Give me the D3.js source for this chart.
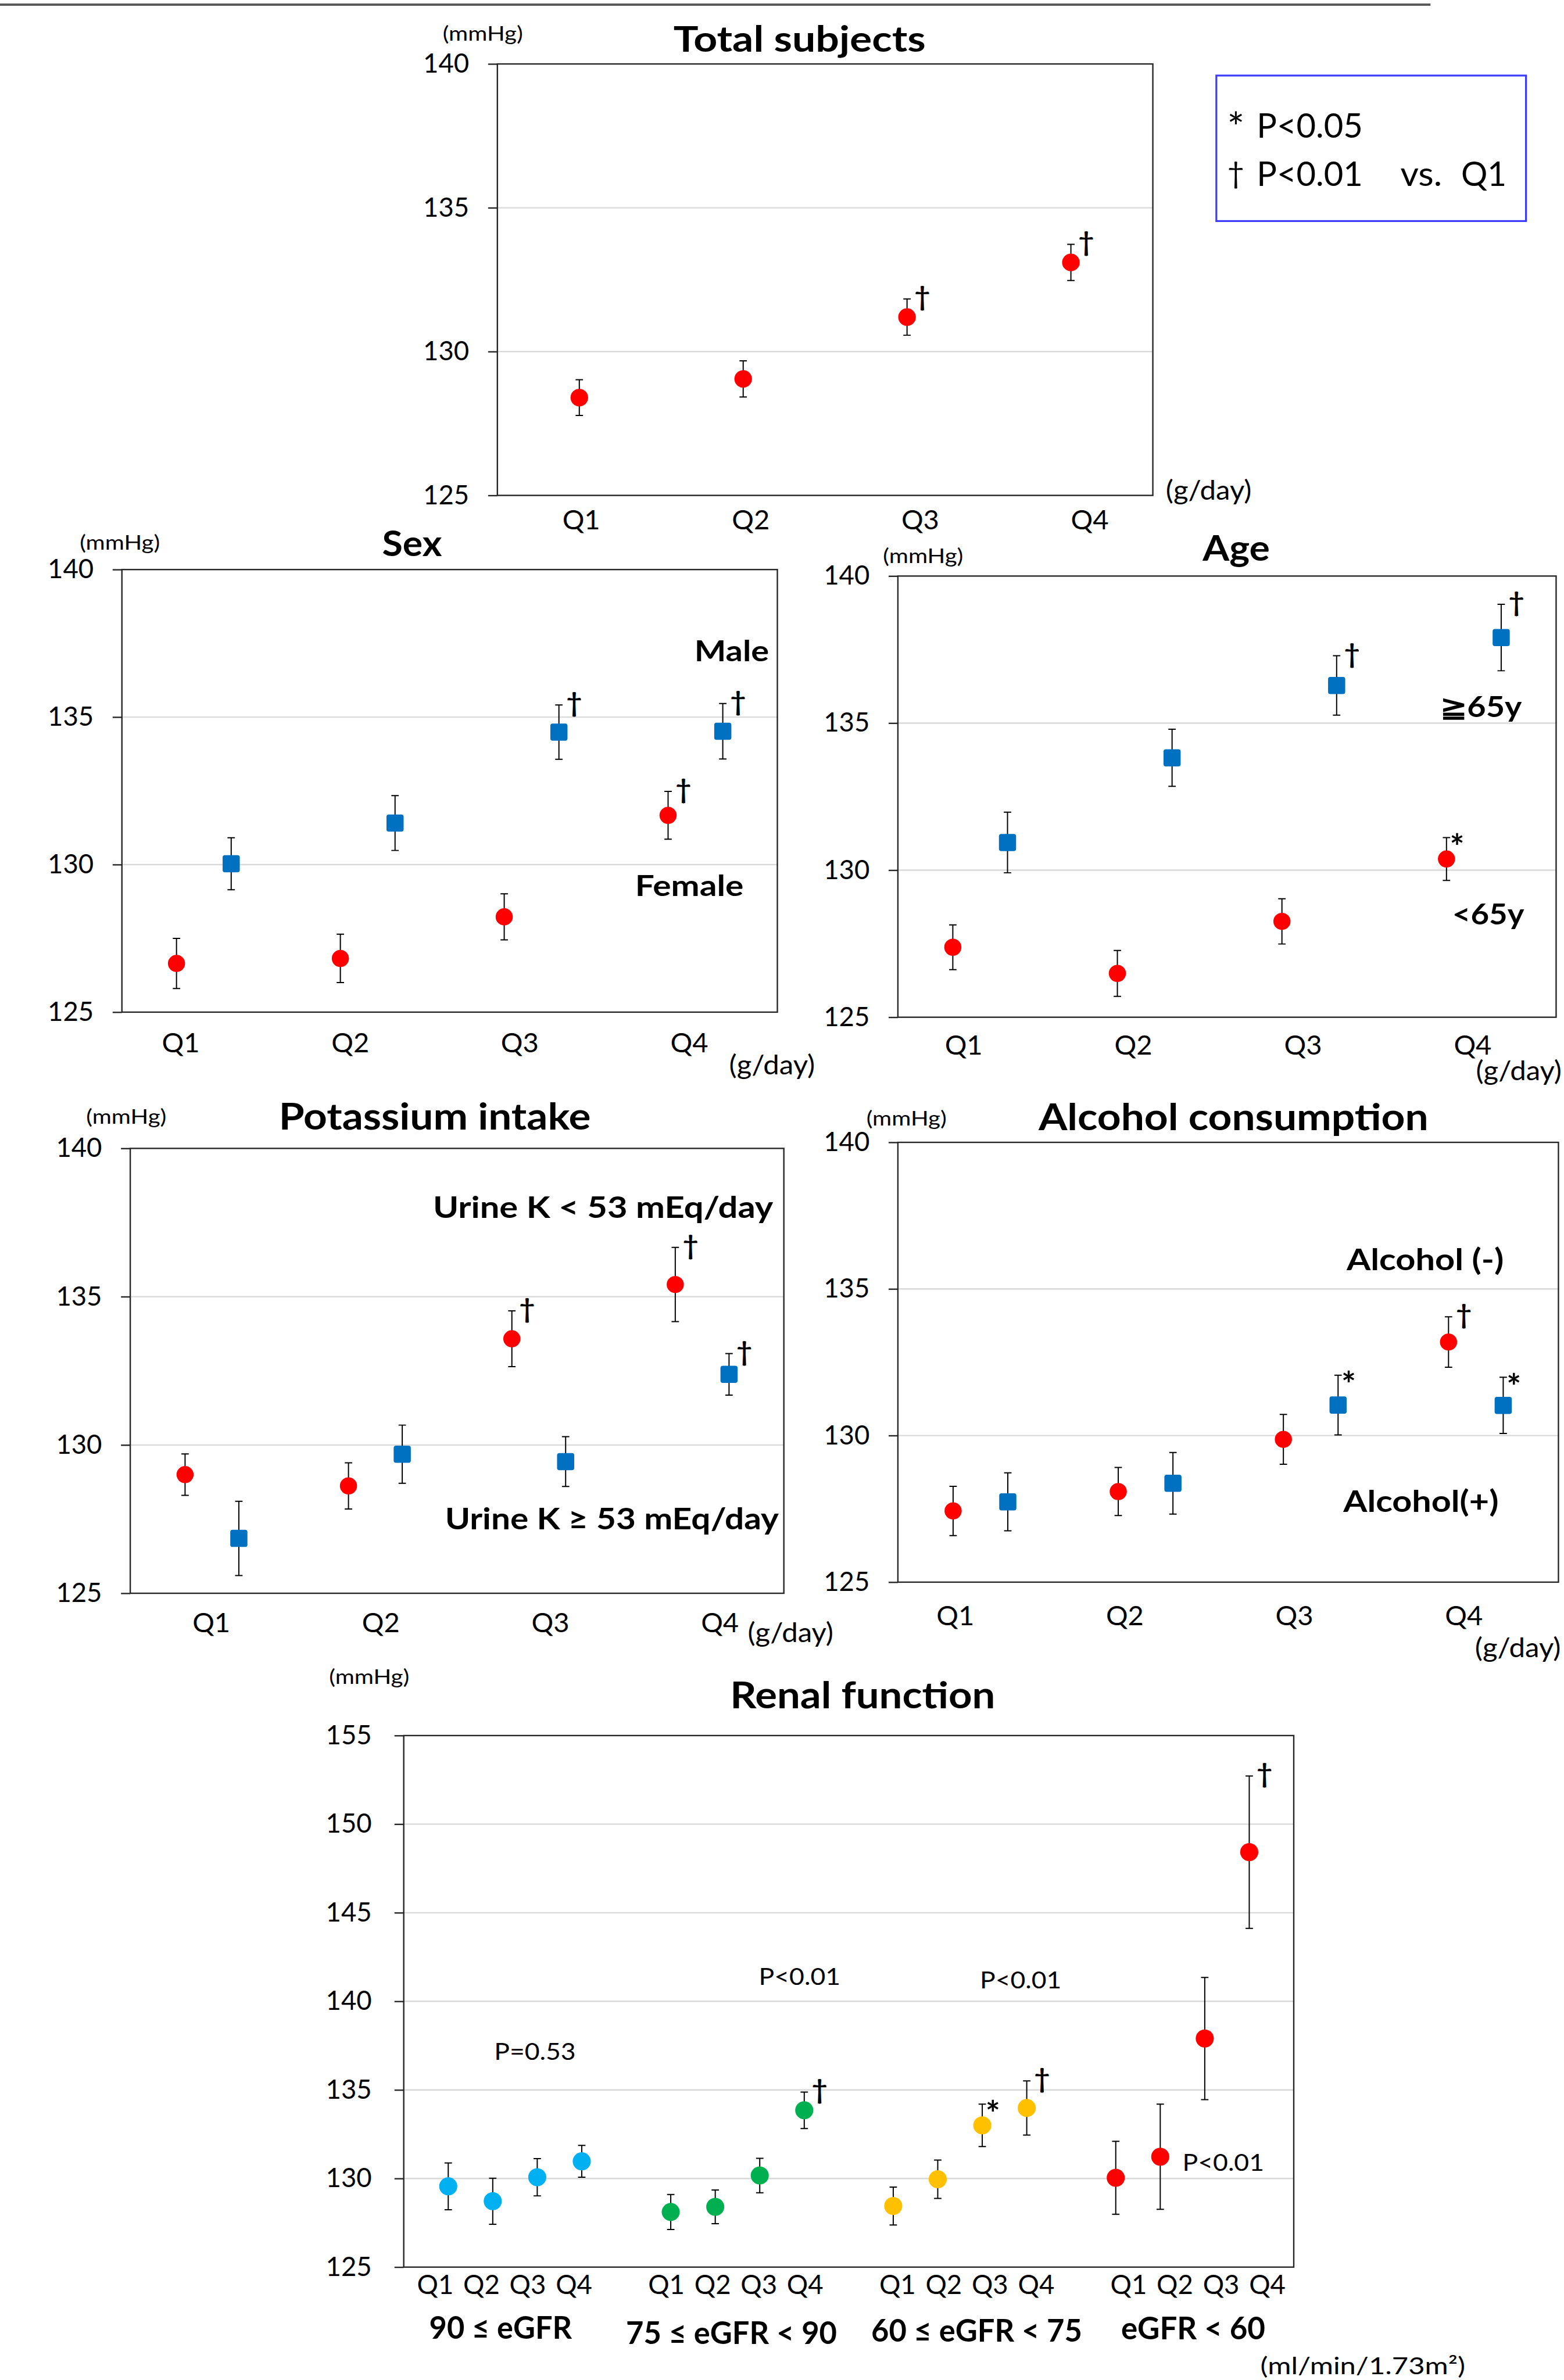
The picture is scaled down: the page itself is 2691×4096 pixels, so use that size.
<!DOCTYPE html>
<html>
<head>
<meta charset="utf-8">
<script src="https://cdn.jsdelivr.net/npm/d3@7"></script>
<style>
  body { margin: 0; background: #fff; }
  svg { display: block; font-family: Lato, 'Open Sans', sans-serif; }
</style>
</head>
<body>
<div id="chart"></div>
<script>
// ---- data ----
const quartiles = ['Q1', 'Q2', 'Q3', 'Q4']
const yTicks = [125, 130, 135, 140]
const renalTicks = [125, 130, 135, 140, 145, 150, 155]

// Total subjects
const totalMean = [128.4, 129.05, 131.2, 133.1]
const totalErr = [0.62, 0.63, 0.63, 0.63]
const totalSig = ['', '', '†', '†']

// Sex
const femaleMean = [126.65, 126.82, 128.23, 131.67]
const femaleErr = [0.85, 0.82, 0.78, 0.81]
const femaleSig = ['', '', '', '†']
const maleMean = [130.03, 131.41, 134.49, 134.52]
const maleErr = [0.88, 0.93, 0.92, 0.94]
const maleSig = ['', '', '†', '†']

// Age
const youngMean = [127.38, 126.49, 128.26, 130.38]
const youngErr = [0.76, 0.78, 0.77, 0.73]
const youngSig = ['', '', '', '*']
const olderMean = [130.94, 133.82, 136.28, 137.91]
const olderErr = [1.03, 0.97, 1.01, 1.13]
const olderSig = ['', '', '†', '†']

// Potassium intake
const lowKMean = [129.0, 128.62, 133.58, 135.41]
const lowKErr = [0.7, 0.78, 0.94, 1.25]
const lowKSig = ['', '', '†', '†']
const highKMean = [126.85, 129.69, 129.44, 132.38]
const highKErr = [1.25, 0.98, 0.84, 0.7]
const highKSig = ['', '', '', '†']

// Alcohol consumption
const noAlcMean = [127.43, 128.09, 129.87, 133.19]
const noAlcErr = [0.84, 0.82, 0.85, 0.86]
const noAlcSig = ['', '', '', '†']
const alcMean = [127.74, 128.37, 131.04, 131.03]
const alcErr = [0.99, 1.05, 1.02, 0.96]
const alcSig = ['', '', '*', '*']

// Renal function
const egfrGroups = ['90 ≤ eGFR', '75 ≤ eGFR < 90', '60 ≤ eGFR < 75', 'eGFR < 60']
const egfrMean = [
  [129.56, 128.72, 130.07, 130.97],
  [128.11, 128.4, 130.17, 133.85],
  [128.45, 129.96, 133.0, 133.98],
  [130.04, 131.23, 137.9, 148.42]
]
const egfrErr = [
  [1.32, 1.3, 1.05, 0.9],
  [0.99, 0.95, 0.97, 1.03],
  [1.07, 1.08, 1.2, 1.53],
  [2.06, 2.97, 3.45, 4.3]
]
const egfrSig = [
  ['', '', '', ''],
  ['', '', '', '†'],
  ['', '', '*', '†'],
  ['', '', '', '†']
]
const egfrTrend = ['P=0.53', 'P<0.01', 'P<0.01', 'P<0.01']

// ---- colours ----
const RED = '#ff0000', BLUE = '#0070c0'
const egfrColors = ['#00b0f0', '#00b050', '#ffc000', '#ff0000']

// ---- page ----
const W = 2691, H = 4096
const k = W / 3374   // everything below is laid out in reference pixels

const svg = d3.select('#chart').append('svg').attr('width', W).attr('height', H)
svg.append('rect').attr('width', W).attr('height', H).attr('fill', '#fff')
const root = svg.append('g').attr('transform', `scale(${k})`)

root.append('line')
  .attr('x1', 0).attr('x2', 3086).attr('y1', 10).attr('y2', 10)
  .style('stroke', '#595959').style('stroke-width', 5)

function label(g, str, x, y, opt = {}) {
  const t = g.append('text')
    .attr('x', x).attr('y', y)
    .attr('text-anchor', opt.anchor || 'start')
    .style('font-size', opt.size || 56)
    .style('font-weight', opt.bold ? 700 : 400)
    .style('fill', '#000')
    .text(str)
  if (opt.middle) t.attr('dominant-baseline', 'central')
  if (opt.width) t.attr('textLength', opt.width).attr('lengthAdjust', 'spacingAndGlyphs')
  return t
}

function frame(g, p, y, ticks) {
  g.selectAll('.grid').data(ticks.slice(1, -1)).join('line')
    .attr('class', 'grid')
    .attr('x1', p.left).attr('x2', p.right)
    .attr('y1', d => y(d)).attr('y2', d => y(d))
    .style('stroke', '#d9d9d9').style('stroke-width', 3)

  g.append('rect')
    .attr('x', p.left).attr('y', p.top)
    .attr('width', p.right - p.left).attr('height', p.bottom - p.top)
    .style('fill', 'none').style('stroke', '#262626').style('stroke-width', 3)

  const ax = g.append('g')
    .attr('transform', `translate(${p.left},0)`)
    .call(d3.axisLeft(y).tickValues(ticks).tickSize(20).tickPadding(p.tickPad || 41))
  ax.select('.domain').remove()
  ax.selectAll('line').style('stroke', '#262626').style('stroke-width', 3)
  ax.selectAll('text')
    .style('font-size', 57).style('font-family', 'Lato').style('fill', '#000')
}

function drawSeries(g, s, xOf, y) {
  const pts = s.mean.map((m, i) => ({q: quartiles[i], m: m, e: s.err[i], sig: s.sig[i]}))
  const cap = 8

  g.append('g').selectAll('path').data(pts).join('path')
    .attr('d', d => {
      const cx = xOf(d.q), y1 = y(d.m + d.e), y2 = y(d.m - d.e)
      return `M${cx - cap},${y1}H${cx + cap}M${cx},${y1}V${y2}M${cx - cap},${y2}H${cx + cap}`
    })
    .style('stroke', '#000').style('stroke-width', 2.5).style('fill', 'none')

  const gm = g.append('g')
  if (s.shape === 'square') {
    const a = 37
    gm.selectAll('rect').data(pts).join('rect')
      .attr('x', d => xOf(d.q) - a / 2).attr('y', d => y(d.m) - a / 2)
      .attr('width', a).attr('height', a).attr('rx', 5)
      .style('fill', s.color)
  } else {
    gm.selectAll('circle').data(pts).join('circle')
      .attr('cx', d => xOf(d.q)).attr('cy', d => y(d.m))
      .attr('r', s.r || 18.5)
      .style('fill', s.color)
  }

  // significance marks: dagger beside the bar top, asterisk a little tighter and larger
  g.append('g').selectAll('text').data(pts.filter(d => d.sig)).join('text')
    .attr('x', d => xOf(d.q) + (d.sig === '*' ? 23 : 33))
    .attr('y', d => y(d.m + d.e) + (d.sig === '*' ? 47 : 15))
    .attr('text-anchor', 'middle')
    .style('font-size', d => d.sig === '*' ? 74 : 58)
    .style('font-weight', 700)
    .text(d => d.sig)
}

function drawPanel(p, seriesList, seriesLabels) {
  const g = root.append('g')
  const y = d3.scaleLinear().domain([yTicks[0], yTicks[yTicks.length - 1]]).range([p.bottom, p.top])
  const x = d3.scaleBand().domain(quartiles).range([p.left, p.right])
  frame(g, p, y, yTicks)

  seriesList.forEach(s => drawSeries(g, s, q => x(q) + x.bandwidth() / 2 + s.offset, y))

  const qx = d3.scalePoint().domain(quartiles).range([p.qLab[0], p.qLab[1]])
  g.append('g').selectAll('text').data(quartiles).join('text')
    .attr('x', d => qx(d)).attr('y', p.qLab[2])
    .attr('text-anchor', 'middle').attr('dominant-baseline', 'central')
    .style('font-size', 59)
    .text(d => d)

  label(g, p.title, p.titlePos[0], p.titlePos[1], {anchor: 'middle', bold: true, size: p.titleSize || 76, width: p.titlePos[2]})
  label(g, '(mmHg)', p.mmHg[0], p.mmHg[1], {middle: true, size: 44, width: 173})
  label(g, '(g/day)', p.gday[0], p.gday[1], {middle: true, size: 58, width: 185})

  seriesLabels.forEach(l => label(g, l.text, l.x, l.y, {bold: true, size: l.size || 62, width: l.w}))
}

// ---- Total subjects ----
drawPanel(
  {left: 1073, right: 2487, top: 138, bottom: 1069, title: 'Total subjects',
   titlePos: [1725, 112, 544], mmHg: [955, 70], gday: [2515, 1056], qLab: [1254, 2351, 1120]},
  [{mean: totalMean, err: totalErr, sig: totalSig, color: RED, shape: 'circle', offset: 0, r: 19}],
  []
)

// significance legend
const lg = root.append('g')
lg.append('rect').attr('x', 2624).attr('y', 163).attr('width', 668).attr('height', 314)
  .style('fill', '#fff').style('stroke', '#3b3bff').style('stroke-width', 4)
label(lg, '*', 2666, 306, {size: 88, anchor: 'middle'})
label(lg, 'P<0.05', 2711, 297, {size: 72, width: 229})
label(lg, '†', 2666, 395, {size: 64, anchor: 'middle'})
label(lg, 'P<0.01', 2711, 401, {size: 72, width: 229})
label(lg, 'vs.', 3021, 401, {size: 72, width: 90})
label(lg, 'Q1', 3152, 401, {size: 72, width: 98})

// ---- Sex ----
drawPanel(
  {left: 263, right: 1677, top: 1229, bottom: 2184, title: 'Sex',
   titlePos: [889, 1200, 129], mmHg: [172, 1168], gday: [1573, 2296], qLab: [390, 1487, 2248]},
  [{mean: femaleMean, err: femaleErr, sig: femaleSig, color: RED, shape: 'circle', offset: -59},
   {mean: maleMean, err: maleErr, sig: maleSig, color: BLUE, shape: 'square', offset: 59}],
  [{text: 'Male', x: 1498, y: 1427, w: 161}, {text: 'Female', x: 1370, y: 1933, w: 234}]
)

// ---- Age ----
drawPanel(
  {left: 1937, right: 3357, top: 1243, bottom: 2195, title: 'Age',
   titlePos: [2667, 1210, 145], mmHg: [1905, 1198], gday: [3184, 2308], qLab: [2079, 3177, 2253]},
  [{mean: youngMean, err: youngErr, sig: youngSig, color: RED, shape: 'circle', offset: -59},
   {mean: olderMean, err: olderErr, sig: olderSig, color: BLUE, shape: 'square', offset: 59}],
  [{text: '≧65y', x: 3107, y: 1547, w: 176}, {text: '<65y', x: 3133, y: 1995, w: 155}]
)

// ---- Potassium intake ----
drawPanel(
  {left: 281, right: 1691, top: 2478, bottom: 3438, title: 'Potassium intake', titleSize: 80,
   titlePos: [938, 2437, 673], mmHg: [186, 2407], gday: [1613, 3521], qLab: [456, 1553, 3500]},
  [{mean: lowKMean, err: lowKErr, sig: lowKSig, color: RED, shape: 'circle', offset: -58},
   {mean: highKMean, err: highKErr, sig: highKSig, color: BLUE, shape: 'square', offset: 58}],
  [{text: 'Urine  K < 53 mEq/day', x: 934, y: 2628, w: 734, size: 64},
   {text: 'Urine K ≥ 53 mEq/day', x: 960, y: 3300, w: 720, size: 64}]
)

// ---- Alcohol consumption ----
drawPanel(
  {left: 1937, right: 3362, top: 2465, bottom: 3414, title: 'Alcohol consumption', titleSize: 80,
   titlePos: [2661, 2439, 841], mmHg: [1869, 2411], gday: [3182, 3553], qLab: [2061, 3158, 3484]},
  [{mean: noAlcMean, err: noAlcErr, sig: noAlcSig, color: RED, shape: 'circle', offset: -59},
   {mean: alcMean, err: alcErr, sig: alcSig, color: BLUE, shape: 'square', offset: 59}],
  [{text: 'Alcohol (-)', x: 2905, y: 2741, w: 339, size: 64},
   {text: 'Alcohol(+)', x: 2898, y: 3263, w: 335, size: 64}]
)

// ---- Renal function ----
{
  const p = {left: 871, right: 2791, top: 3745, bottom: 4892, tickPad: 49}
  const g = root.append('g')
  const y = d3.scaleLinear().domain([renalTicks[0], renalTicks[renalTicks.length - 1]]).range([p.bottom, p.top])
  const x = d3.scaleLinear().domain([0, 20]).range([p.left, p.right])
  const slot = (gi, q) => 1 + 5 * gi + quartiles.indexOf(q)
  frame(g, p, y, renalTicks)

  egfrGroups.forEach((name, gi) => {
    drawSeries(g, {mean: egfrMean[gi], err: egfrErr[gi], sig: egfrSig[gi], color: egfrColors[gi], shape: 'circle', r: 19.5},
      q => x(slot(gi, q)), y)
  })

  // quartile labels under each group
  const qx = d3.scaleLinear().domain([1, 19]).range([939, 2734])
  const qItems = d3.cross(d3.range(4), quartiles)
  g.append('g').selectAll('text').data(qItems).join('text')
    .attr('x', d => qx(slot(d[0], d[1]))).attr('y', 4928)
    .attr('text-anchor', 'middle').attr('dominant-baseline', 'central')
    .style('font-size', 57)
    .text(d => d[1])

  const groupPos = [[1080, 5046, 308], [1578, 5058, 455], [2107, 5053, 455], [2574, 5048, 311]]
  egfrGroups.forEach((name, gi) => {
    label(g, name, groupPos[gi][0], groupPos[gi][1], {anchor: 'middle', bold: true, size: 67, width: groupPos[gi][2]})
  })

  const trendPos = [[1154, 4445], [1725, 4283], [2202, 4291], [2639, 4684]]
  egfrTrend.forEach((t, gi) => {
    label(g, t, trendPos[gi][0], trendPos[gi][1], {anchor: 'middle', size: 52, width: 176})
  })

  label(g, 'Renal function', 1861, 3686, {anchor: 'middle', bold: true, size: 80, width: 572})
  label(g, '(mmHg)', 710, 3616, {middle: true, size: 44, width: 173})
  label(g, '(ml/min/1.73m²)', 2719, 5104, {middle: true, size: 50, width: 442})
}
</script>
</body>
</html>
